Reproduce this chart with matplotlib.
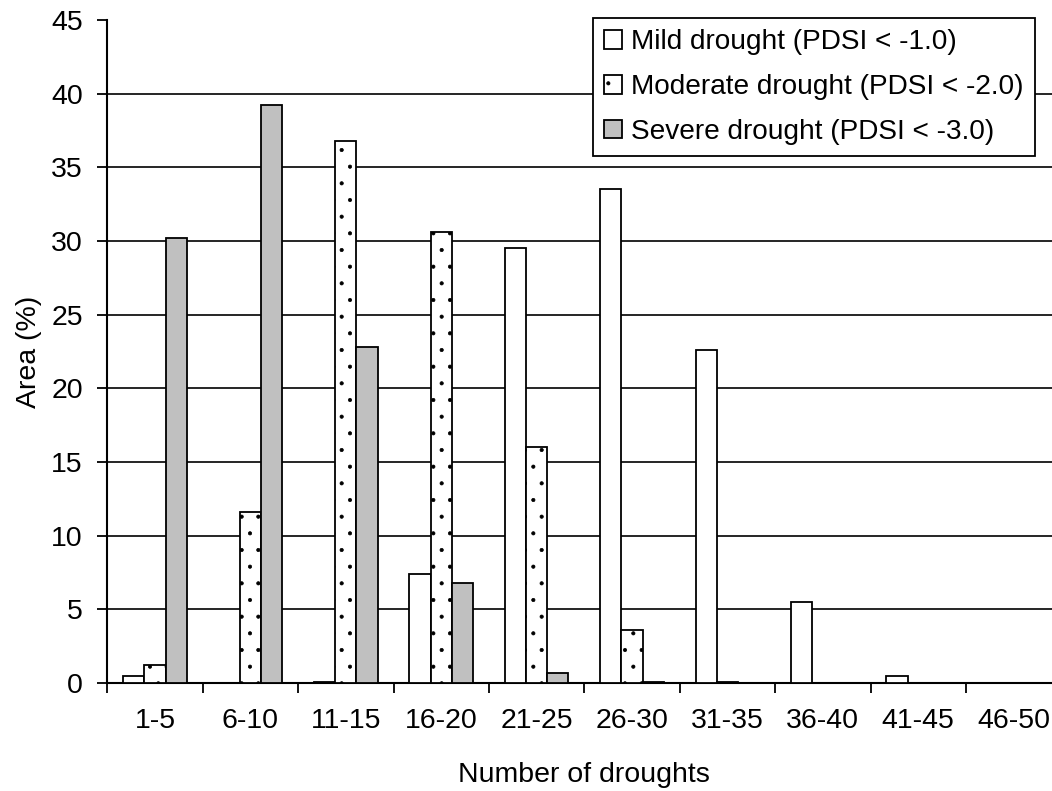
import matplotlib
matplotlib.use("Agg")
import matplotlib.pyplot as plt
import numpy as np

categories = ["1-5", "6-10", "11-15", "16-20", "21-25", "26-30", "31-35", "36-40", "41-45", "46-50"]
mild = [0.5, 0.0, 0.1, 7.4, 29.5, 33.5, 22.6, 5.5, 0.5, 0.0]
moderate = [1.2, 11.6, 36.8, 30.6, 16.0, 3.6, 0.1, 0.0, 0.0, 0.0]
severe = [30.2, 39.2, 22.8, 6.8, 0.7, 0.1, 0.0, 0.0, 0.0, 0.0]
series_labels = ["Mild drought (PDSI < -1.0)", "Moderate drought (PDSI < -2.0)", "Severe drought (PDSI < -3.0)"]
yticks = [0, 5, 10, 15, 20, 25, 30, 35, 40, 45]

plt.rcParams['font.family'] = ['Liberation Sans', 'DejaVu Sans']
plt.rcParams['hatch.linewidth'] = 0.5
plt.rcParams['hatch.color'] = 'black'

fs = 20.5
fig = plt.figure(figsize=(10.52, 7.91), dpi=100)
ax = fig.add_axes([107.3 / 1052, (791 - 683) / 791, 954 / 1052, 663 / 791])

x = np.arange(len(categories))
w = 1 / 4.5
ec = 'black'
lw = 1.3
ax.bar(x - w, mild, w, color='white', edgecolor=ec, linewidth=lw, label=series_labels[0], zorder=3)
ax.bar(x, moderate, w, color='white', edgecolor=ec, linewidth=lw, hatch='.', label=series_labels[1], zorder=3)
ax.bar(x + w, severe, w, color='#c0c0c0', edgecolor=ec, linewidth=lw, label=series_labels[2], zorder=3)

ax.set_xlim(-0.5, len(categories) - 0.5)
ax.set_ylim(0, 45)
ax.set_yticks(yticks)
ax.set_xticks(x)
ax.set_xticklabels(categories)
ax.set_xticks(np.arange(-0.5, len(categories), 1.0), minor=True)
ax.tick_params(axis='x', which='major', length=0, pad=18, labelsize=fs)
ax.tick_params(axis='x', which='minor', length=7.5, width=1.3, direction='out')
ax.tick_params(axis='y', length=7.5, width=1.3, pad=10, labelsize=fs)

ax.yaxis.grid(True, color='black', linewidth=1.2, zorder=0)
ax.set_axisbelow(True)
ax.get_ygridlines()[0].set_visible(False)
ax.get_ygridlines()[-1].set_visible(False)

for s in ['top', 'right']:
    ax.spines[s].set_visible(False)
for s in ['left', 'bottom']:
    ax.spines[s].set_linewidth(1.5)

ax.set_ylabel("Area (%)", fontsize=fs, labelpad=7)
ax.set_xlabel("Number of droughts", fontsize=fs, labelpad=20)

leg = ax.legend(loc='upper left', bbox_to_anchor=(593 / 1052, 1 - 18 / 791),
                bbox_transform=fig.transFigure, fontsize=20.2, frameon=True,
                fancybox=False, edgecolor='black', framealpha=1,
                handlelength=0.65, handleheight=0.65, handletextpad=0.3,
                labelspacing=0.67, borderpad=0.4, borderaxespad=0)
leg.get_frame().set_linewidth(1.3)

fig.savefig("out.png", dpi=100)
